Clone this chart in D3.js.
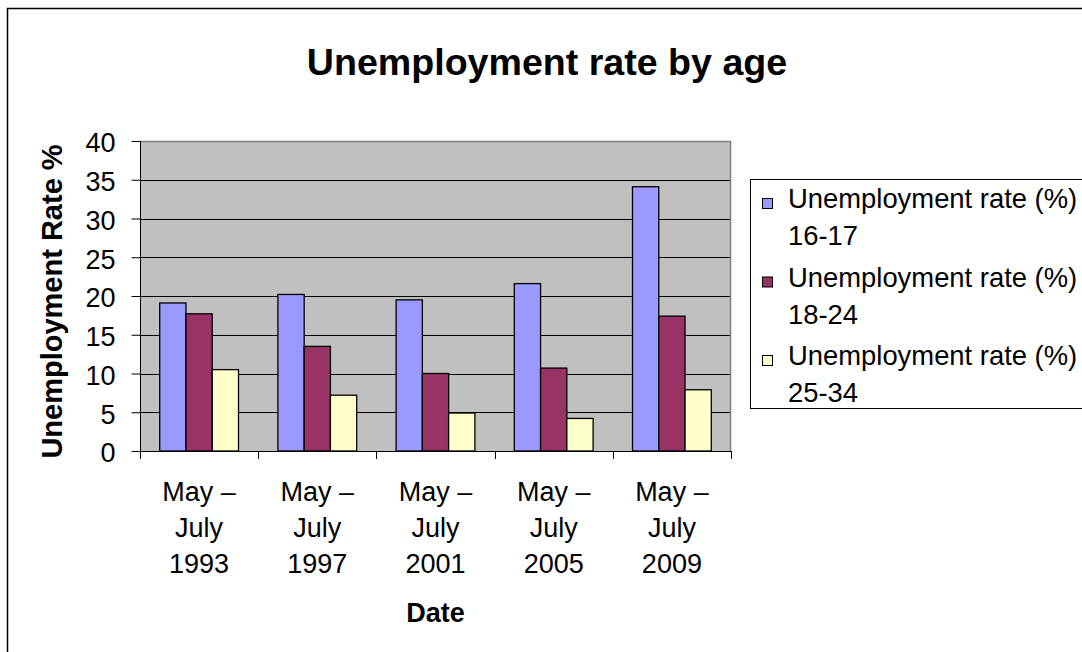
<!DOCTYPE html>
<html>
<head>
<meta charset="utf-8">
<script src="https://cdn.jsdelivr.net/npm/d3@7"></script>
<style>
  html, body { margin: 0; padding: 0; background: #fff; }
  svg { display: block; font-family: "Liberation Sans", Arial, sans-serif; }
</style>
</head>
<body>
<svg id="chart" width="1082" height="652"></svg>
<script>
// Survey periods (each label is split over three lines)
const categories = ["May – July 1993", "May – July 1997", "May – July 2001", "May – July 2005", "May – July 2009"];
const categoryLines = [
  ["May –", "July", "1993"],
  ["May –", "July", "1997"],
  ["May –", "July", "2001"],
  ["May –", "July", "2005"],
  ["May –", "July", "2009"]
];

// Age bands
const seriesNames = ["Unemployment rate (%) 16-17", "Unemployment rate (%) 18-24", "Unemployment rate (%) 25-34"];
const seriesLegendLines = [
  ["Unemployment rate (%)", "16-17"],
  ["Unemployment rate (%)", "18-24"],
  ["Unemployment rate (%)", "25-34"]
];
const seriesColors = ["#9999FF", "#993366", "#FFFFCC"];

// Unemployment rate (%) per period, one array per age band
const rate16to17 = [19.1, 20.2, 19.5, 21.6, 34.1];
const rate18to24 = [17.7, 13.5, 10.0, 10.7, 17.4];
const rate25to34 = [10.5, 7.2, 4.9, 4.2, 7.9];
const seriesValues = [rate16to17, rate18to24, rate25to34];

const yTicks = [0, 5, 10, 15, 20, 25, 30, 35, 40];

const svg = d3.select("#chart");

// Outer chart frame (runs past the right and bottom edges)
svg.append("rect")
  .attr("x", 7.5).attr("y", 8.5)
  .attr("width", 1120).attr("height", 700)
  .attr("fill", "#fff").attr("stroke", "#000").attr("stroke-width", 1.5);

const plot = { left: 140, right: 731, top: 141, bottom: 451 };

const x0 = d3.scaleBand()
  .domain(categories)
  .range([plot.left, plot.right])
  .padding(0);

const bw = x0.bandwidth();
const x1 = d3.scaleBand()
  .domain(seriesNames)
  .range([bw / 6, bw * 5 / 6])
  .padding(0);

const y = d3.scaleLinear()
  .domain([0, 40])
  .range([plot.bottom, plot.top]);

// Plot area background
svg.append("rect")
  .attr("x", plot.left).attr("y", plot.top)
  .attr("width", plot.right - plot.left).attr("height", plot.bottom - plot.top)
  .attr("fill", "#C0C0C0");

// Horizontal gridlines
svg.append("g")
  .selectAll("line")
  .data(yTicks.filter(d => d > 0 && d < 40))
  .join("line")
  .attr("x1", plot.left).attr("x2", plot.right)
  .attr("y1", d => Math.round(y(d)) + 0.5).attr("y2", d => Math.round(y(d)) + 0.5)
  .attr("stroke", "#000").attr("stroke-width", 1);

// Plot area top and right border
svg.append("path")
  .attr("d", `M${plot.left},${plot.top + 0.5}H${plot.right - 0.5}V${plot.bottom}`)
  .attr("fill", "none").attr("stroke", "#808080").attr("stroke-width", 1.5);

// Bars
const groups = svg.append("g")
  .selectAll("g")
  .data(categories)
  .join("g")
  .attr("transform", d => `translate(${x0(d)},0)`);

groups.selectAll("rect")
  .data((c, i) => seriesNames.map((s, j) => ({ series: s, value: seriesValues[j][i], color: seriesColors[j] })))
  .join("rect")
  .attr("x", d => x1(d.series))
  .attr("y", d => y(d.value))
  .attr("width", x1.bandwidth())
  .attr("height", d => y(0) - y(d.value))
  .attr("fill", d => d.color)
  .attr("stroke", "#000")
  .attr("stroke-width", 1.3);

// Y axis
const yAxis = svg.append("g")
  .attr("transform", `translate(${plot.left + 0.5},0)`)
  .call(d3.axisLeft(y).tickValues(yTicks).tickSize(9).tickPadding(16).tickSizeOuter(0));
yAxis.select(".domain").attr("stroke", "#000").attr("d", `M0,${plot.top}V${plot.bottom + 8}`);
yAxis.selectAll(".tick line").attr("stroke", "#000");
yAxis.selectAll(".tick text")
  .attr("fill", "#000")
  .attr("dy", "0.4em")
  .style("font-size", "27px")
  .style("font-family", "'Liberation Sans', Arial, sans-serif");

// X axis: ticks sit on the band boundaries
const xBoundaries = categories.map(c => x0(c)).concat([plot.right]);
const xAxis = svg.append("g");
xAxis.append("line")
  .attr("x1", plot.left).attr("x2", plot.right)
  .attr("y1", plot.bottom + 0.5).attr("y2", plot.bottom + 0.5)
  .attr("stroke", "#000");
xAxis.selectAll("line.tick")
  .data(xBoundaries)
  .join("line")
  .attr("class", "tick")
  .attr("x1", d => Math.round(d) + 0.5).attr("x2", d => Math.round(d) + 0.5)
  .attr("y1", plot.bottom).attr("y2", plot.bottom + 8)
  .attr("stroke", "#000");

const lineBaselines = [501, 537, 572.5];
xAxis.selectAll("text.cat")
  .data(categories)
  .join("text")
  .attr("class", "cat")
  .attr("x", d => x0(d) + bw / 2)
  .attr("text-anchor", "middle")
  .style("font-size", "27px")
  .attr("fill", "#000")
  .each(function (d, i) {
    const t = d3.select(this);
    categoryLines[i].forEach((ln, k) => {
      t.append("tspan")
        .attr("x", x0(d) + bw / 2)
        .attr("y", lineBaselines[k])
        .text(ln);
    });
  });

// Title
svg.append("text")
  .attr("x", 547).attr("y", 74.5)
  .attr("text-anchor", "middle")
  .style("font-size", "37.6px").style("font-weight", "bold")
  .text("Unemployment rate by age");

// Axis titles
svg.append("text")
  .attr("x", (plot.left + plot.right) / 2).attr("y", 621.5)
  .attr("text-anchor", "middle")
  .style("font-size", "27px").style("font-weight", "bold")
  .text("Date");

svg.append("text")
  .attr("transform", "translate(62,301.5) rotate(-90)")
  .attr("text-anchor", "middle")
  .style("font-size", "29px").style("font-weight", "bold")
  .text("Unemployment Rate %");

// Legend
const legend = svg.append("g");
legend.append("rect")
  .attr("x", 750.5).attr("y", 179.5)
  .attr("width", 400).attr("height", 229)
  .attr("fill", "#fff").attr("stroke", "#000").attr("stroke-width", 1);

const legendBase = 208, legendStep = 78.5, legendLineGap = 37;
const items = legend.selectAll("g.item")
  .data(seriesNames)
  .join("g")
  .attr("class", "item");

items.append("rect")
  .attr("x", 762.5)
  .attr("y", (d, i) => legendBase + i * legendStep - 9.5)
  .attr("width", 10).attr("height", 10)
  .attr("fill", (d, i) => seriesColors[i])
  .attr("stroke", "#000").attr("stroke-width", 1);

items.append("text")
  .style("font-size", "27.4px")
  .each(function (d, i) {
    const t = d3.select(this);
    seriesLegendLines[i].forEach((ln, k) => {
      t.append("tspan")
        .attr("x", 788)
        .attr("y", legendBase + i * legendStep + k * legendLineGap)
        .text(ln);
    });
  });
</script>
</body>
</html>
